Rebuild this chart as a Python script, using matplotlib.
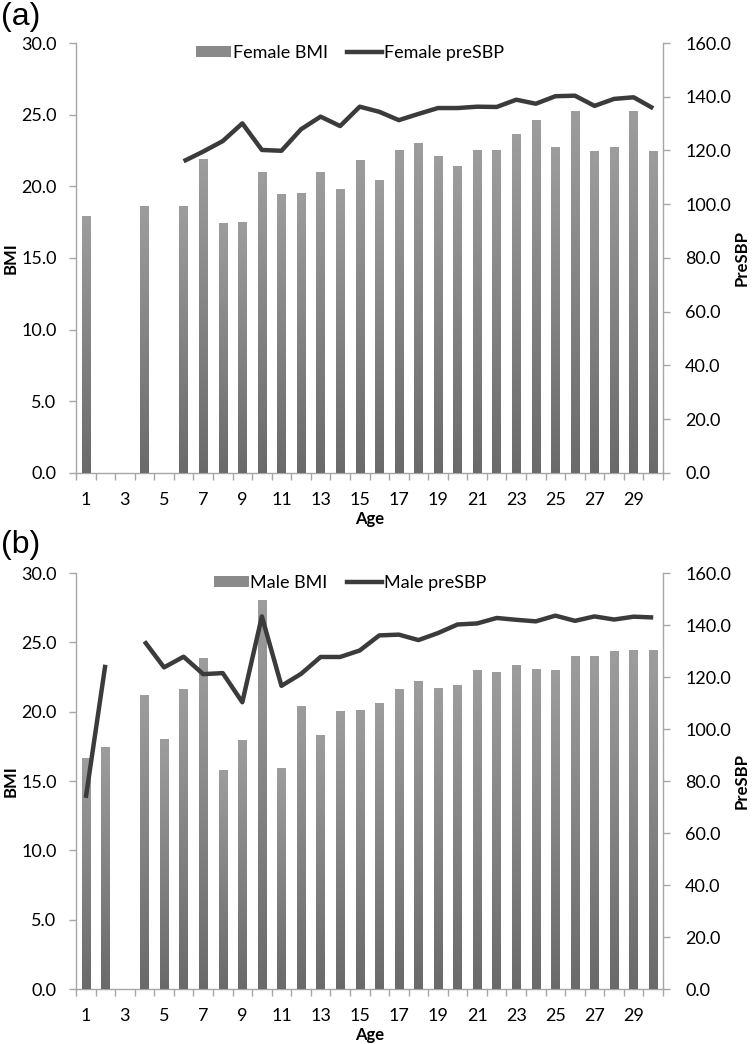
import numpy as np
import matplotlib
matplotlib.use("Agg")
import matplotlib.pyplot as plt
from matplotlib.colors import LinearSegmentedColormap
from matplotlib.patches import Patch
from matplotlib.lines import Line2D

ages = list(range(1, 31))
nan = np.nan

female_bmi = [17.9, nan, nan, 18.6, nan, 18.6, 21.9, 17.4, 17.5, 21.0,
              19.4, 19.5, 21.0, 19.8, 21.8, 20.4, 22.5, 23.0, 22.1, 21.4,
              22.5, 22.5, 23.6, 24.6, 22.7, 25.2, 22.4, 22.7, 25.2, 22.4]
female_sbp = [nan, nan, nan, nan, nan, 116.0, 119.6, 123.5, 130.1, 120.2,
              119.9, 127.9, 132.6, 129.1, 136.3, 134.4, 131.3, 133.6, 135.8, 135.8,
              136.3, 136.2, 138.9, 137.4, 140.2, 140.4, 136.6, 139.2, 139.8, 135.7]

male_bmi = [16.6, 17.4, nan, 21.2, 18.0, 21.6, 23.8, 15.75, 17.9, 28.0,
            15.9, 20.4, 18.3, 20.0, 20.1, 20.6, 21.6, 22.2, 21.65, 21.9,
            23.0, 22.8, 23.35, 23.05, 22.95, 24.0, 24.0, 24.35, 24.4, 24.4]
male_sbp = [73.5, 124.7, nan, 133.7, 123.7, 127.8, 121.1, 121.5, 110.3, 143.3,
            116.6, 121.2, 127.7, 127.7, 130.2, 136.0, 136.3, 134.2, 136.9, 140.2,
            140.6, 142.7, 142.0, 141.4, 143.6, 141.6, 143.3, 142.1, 143.2, 142.9]

bmi_ticks = [0, 5, 10, 15, 20, 25, 30]
sbp_ticks = [0, 20, 40, 60, 80, 100, 120, 140, 160]

FONT = "Lato"
plt.rcParams['font.family'] = [FONT, 'DejaVu Sans']
SPINE = "#a6a6a6"
LINEC = "#3b3b3b"
FS = 13
cmap = LinearSegmentedColormap.from_list("g", ["#6a6a6a", "#9d9d9d"])

W, H = 752, 1044
fig = plt.figure(figsize=(W / 100, H / 100), dpi=100)


def panel(left, top, right, bottom, bmi, sbp, lab_bmi, lab_sbp, letter, letter_y):
    ax = fig.add_axes([left / W, 1 - bottom / H, (right - left) / W, (bottom - top) / H])
    x = np.arange(1, 31)
    bvals = np.array(bmi, dtype=float)
    bars = ax.bar(x, np.nan_to_num(bvals), width=0.43, color="#8a8a8a", zorder=2)
    grad = np.linspace(1, 0, 256).reshape(-1, 1)
    for b, v in zip(bars, bvals):
        if np.isnan(v) or v <= 0:
            continue
        x0 = b.get_x()
        ax.imshow(grad, extent=[x0, x0 + b.get_width(), 0, v], aspect='auto',
                  cmap=cmap, zorder=3, interpolation='bilinear')
    ax.set_xlim(0.5, 30.5)
    ax.set_ylim(0, 30)
    ax.set_yticks(bmi_ticks)
    ax.set_yticklabels([f"{t:.1f}" for t in bmi_ticks])
    ax.set_xticks(x)
    ax.set_xticklabels([str(a) if a % 2 == 1 else "" for a in ages])
    ax.set_xticks(np.arange(0.5, 31.0, 1.0), minor=True)
    ax.tick_params(axis='x', which='major', length=0, pad=14, labelsize=FS)
    ax.tick_params(axis='x', which='minor', length=5, width=1, color=SPINE)
    ax.tick_params(axis='y', length=5, width=1, color=SPINE, pad=9, labelsize=FS)
    for s in ['top', 'right']:
        ax.spines[s].set_visible(False)
    for s in ['left', 'bottom']:
        ax.spines[s].set_color(SPINE)
        ax.spines[s].set_linewidth(1)
    ax.set_ylabel("BMI", fontsize=12, fontweight='bold')
    ax.set_xlabel("Age", fontsize=12, fontweight='bold', labelpad=1.5)
    ax.yaxis.set_label_coords(-57 / (right - left), 0.5)

    ax2 = ax.twinx()
    ax2.plot(x, sbp, color=LINEC, lw=3.2, zorder=5, solid_capstyle='butt')
    ax2.set_ylim(0, 160)
    ax2.set_yticks(sbp_ticks)
    ax2.set_yticklabels([f"{t:.1f}" for t in sbp_ticks])
    ax2.tick_params(axis='y', length=5, width=1, color=SPINE, pad=11, labelsize=FS)
    for s in ['top', 'left', 'bottom']:
        ax2.spines[s].set_visible(False)
    ax2.spines['right'].set_color(SPINE)
    ax2.spines['right'].set_linewidth(1)
    ax2.set_ylabel("PreSBP", fontsize=12, fontweight='bold')
    ax2.yaxis.set_label_coords(1 + 71 / (right - left), 0.5)

    handles = [Patch(facecolor="#8a8a8a", edgecolor='none'),
               Line2D([0], [0], color=LINEC, lw=3.2)]
    ax2.legend(handles, [lab_bmi, lab_sbp], loc='upper center', ncol=2,
               bbox_to_anchor=((350 - left) / (right - left), 1.012),
               frameon=False, fontsize=FS, handlelength=1.9, handleheight=0.55,
               handletextpad=0.1, columnspacing=1.1, borderaxespad=0.0)
    fig.text(1 / W, 1 - letter_y / H, letter, fontsize=23, family='Liberation Sans',
             va='center', ha='left')
    return ax, ax2


panel(76, 43, 663, 473, female_bmi, female_sbp, "Female BMI", "Female preSBP", "(a)", 17)
panel(76, 573, 663, 989, male_bmi, male_sbp, "Male BMI", "Male preSBP", "(b)", 545)

fig.savefig("out.png", dpi=100)
